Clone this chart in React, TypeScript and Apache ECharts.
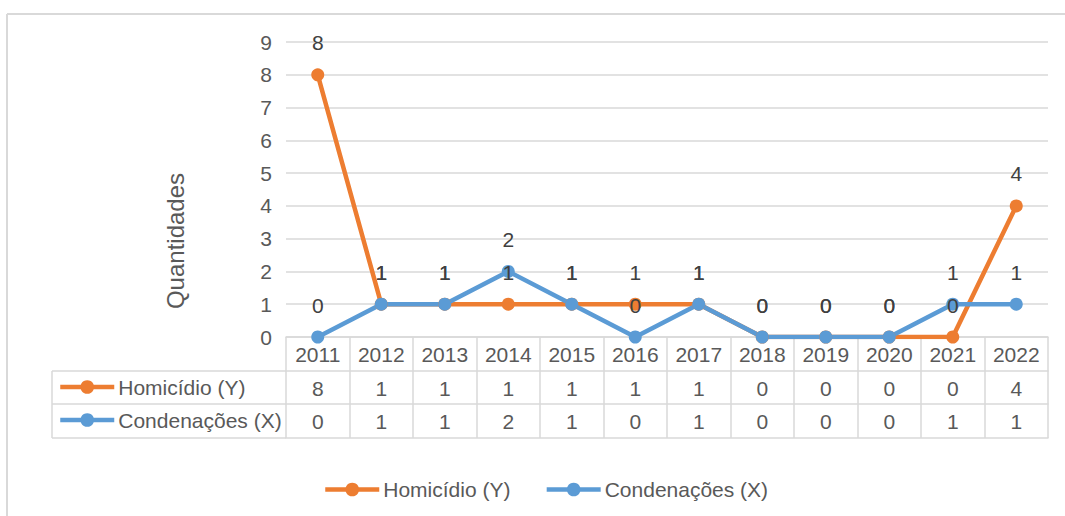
import React, { useEffect, useRef } from "react";
import * as echarts from "echarts";

const years = ["2011", "2012", "2013", "2014", "2015", "2016", "2017", "2018", "2019", "2020", "2021", "2022"];
const homicidio = [8, 1, 1, 1, 1, 1, 1, 0, 0, 0, 0, 4];
const condenacoes = [0, 1, 1, 2, 1, 0, 1, 0, 0, 0, 1, 1];
const yTicks = { min: 0, max: 9, interval: 1 };
const yTitle = "Quantidades";

const FONT = "Liberation Sans";
const TXT = "#595959";
const GRID = "#d9d9d9";
const ORANGE = "#ED7D31";
const BLUE = "#5B9BD5";

export default function App() {
  const ref = useRef<HTMLDivElement>(null);
  useEffect(() => {
    if (!ref.current) return;
    const chart = echarts.init(ref.current, undefined, { renderer: "svg" });
    const tableAxis = (offset: number, vals: number[] | null) => ({
      type: "category",
      data: years,
      position: "bottom",
      offset,
      gridIndex: 0,
      axisLine: { show: true, lineStyle: { color: GRID, width: 1.5 } },
      axisTick: { show: false },
      axisLabel: {
        show: !!vals,
        interval: 0,
        margin: 7,
        fontSize: 21,
        fontFamily: FONT,
        color: TXT,
        formatter: (_v: string, i: number) => (vals ? String(vals[i]) : ""),
      },
    });
    const seriesLabel = {
      show: true,
      position: "top",
      distance: 15,
      fontSize: 21,
      fontFamily: FONT,
      color: "#404040",
    };
    const legendCommon = {
      data: ["Homicídio (Y)", "Condenações (X)"],
      itemWidth: 54,
      itemHeight: 17,
      lineStyle: { width: 4.5 },
      selectedMode: false,
    };
    chart.setOption({
      animation: false,
      grid: { left: 286, right: 17, top: 42, bottom: 179, containLabel: false },
      textStyle: { fontFamily: FONT },
      legend: [
        {
          ...legendCommon,
          top: 474,
          left: 318,
          itemGap: 34,
          textStyle: { fontSize: 21, fontFamily: FONT, color: TXT, padding: [0, 0, 0, -1] },
        },
        {
          ...legendCommon,
          orient: "vertical",
          left: 58,
          top: 376,
          padding: 0,
          itemGap: 11,
          textStyle: { fontSize: 21, lineHeight: 22, fontFamily: FONT, color: TXT, padding: [0, 0, 0, -1] },
        },
      ],
      xAxis: [
        {
          type: "category",
          data: years,
          position: "bottom",
          boundaryGap: true,
          axisLine: { show: true, lineStyle: { color: GRID, width: 1.5 } },
          axisTick: { show: true, interval: 0, length: 101, lineStyle: { color: GRID, width: 1.5 } },
          axisLabel: { interval: 0, margin: 7, fontSize: 21, fontFamily: FONT, color: TXT },
        },
        tableAxis(34, homicidio),
        tableAxis(67, condenacoes),
        tableAxis(101, null),
      ],
      yAxis: {
        type: "value",
        min: yTicks.min,
        max: yTicks.max,
        interval: yTicks.interval,
        axisLine: { show: false },
        axisTick: { show: false },
        axisLabel: { margin: 14, fontSize: 21, fontFamily: FONT, color: TXT },
        splitLine: { lineStyle: { color: GRID, width: 1.5 } },
      },
      series: [
        {
          name: "Homicídio (Y)",
          type: "line",
          data: homicidio,
          symbol: "circle",
          symbolSize: 13,
          lineStyle: { color: ORANGE, width: 4.5 },
          itemStyle: { color: ORANGE },
          label: seriesLabel,
        },
        {
          name: "Condenações (X)",
          type: "line",
          data: condenacoes,
          symbol: "circle",
          symbolSize: 13,
          lineStyle: { color: BLUE, width: 4.5 },
          itemStyle: { color: BLUE },
          label: seriesLabel,
        },
      ],
      graphic: [
        { type: "line", shape: { x1: 7, y1: 14, x2: 1065, y2: 14 }, style: { stroke: GRID, lineWidth: 2 } },
        { type: "line", shape: { x1: 7, y1: 14, x2: 7, y2: 516 }, style: { stroke: GRID, lineWidth: 2 } },
        { type: "line", shape: { x1: 52, y1: 371, x2: 286, y2: 371 }, style: { stroke: GRID, lineWidth: 1.5 } },
        { type: "line", shape: { x1: 52, y1: 404, x2: 286, y2: 404 }, style: { stroke: GRID, lineWidth: 1.5 } },
        { type: "line", shape: { x1: 52, y1: 438, x2: 286, y2: 438 }, style: { stroke: GRID, lineWidth: 1.5 } },
        { type: "line", shape: { x1: 52, y1: 371, x2: 52, y2: 438 }, style: { stroke: GRID, lineWidth: 1.5 } },
        {
          type: "text",
          x: 175,
          y: 241,
          rotation: Math.PI / 2,
          style: {
            text: yTitle,
            fontSize: 24,
            fontFamily: FONT,
            fill: TXT,
            align: "center",
            verticalAlign: "middle",
          },
        },
      ],
    });
    return () => chart.dispose();
  }, []);
  return (
    <div
      ref={ref}
      style={{ position: "fixed", left: 0, top: 0, width: 1065, height: 516, background: "#fff" }}
    />
  );
}
